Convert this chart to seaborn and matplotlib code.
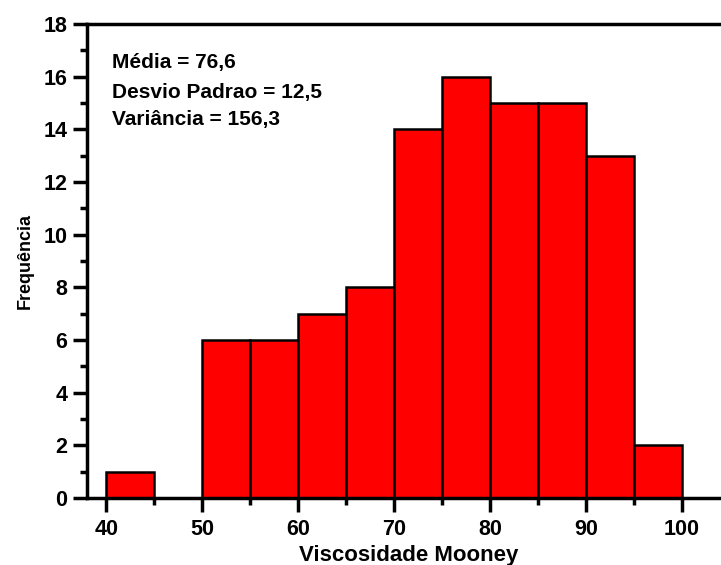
import numpy as np
import pandas as pd
import matplotlib
matplotlib.use('Agg')
import matplotlib.pyplot as plt
import seaborn as sns
from matplotlib import font_manager
from matplotlib.ticker import MultipleLocator

# histogram: bin edges and counts
bin_edges = [40, 45, 50, 55, 60, 65, 70, 75, 80, 85, 90, 95, 100]
counts = [1, 0, 6, 6, 7, 8, 14, 16, 15, 15, 13, 2]
stats_lines = ['Média = 76,6', 'Desvio Padrao = 12,5', 'Variância = 156,3']

centers = [(a + b) / 2 for a, b in zip(bin_edges[:-1], bin_edges[1:])]
df = pd.DataFrame({'visc': centers, 'freq': counts})

sns.set_style('ticks')
plt.rcParams['font.family'] = ['Liberation Sans', 'DejaVu Sans']
plt.rcParams['font.weight'] = 'bold'
plt.rcParams['text.color'] = 'black'
plt.rcParams['axes.labelcolor'] = 'black'
plt.rcParams['xtick.color'] = 'black'
plt.rcParams['ytick.color'] = 'black'
plt.rcParams['axes.edgecolor'] = 'black'

# y label in the original looks condensed - use the narrow face if it is there
names = {f.name for f in font_manager.fontManager.ttflist}
if 'Liberation Sans Narrow' in names:
    ylab_font, ylab_size = 'Liberation Sans Narrow', 15
else:
    ylab_font, ylab_size = 'Liberation Sans', 13

fig = plt.figure(figsize=(7.21, 5.65), dpi=100)
# axes runs past the right edge like the original (right spine cut off)
ax = fig.add_axes([87 / 721, 67 / 565, (730 - 87) / 721, (541 - 67) / 565])

sns.histplot(data=df, x='visc', weights='freq', bins=bin_edges, ax=ax,
             color='#ff0000', alpha=1, edgecolor='black', linewidth=1.8)

ax.set_xlim(38, 105)
ax.set_ylim(0, 18)
ax.xaxis.set_major_locator(MultipleLocator(10))
ax.xaxis.set_minor_locator(MultipleLocator(5))
ax.yaxis.set_major_locator(MultipleLocator(2))
ax.yaxis.set_minor_locator(MultipleLocator(1))
ax.tick_params(which='major', direction='out', length=10, width=2.5, labelsize=15.5)
ax.tick_params(axis='x', which='major', pad=5)
ax.tick_params(axis='y', which='major', pad=4)
ax.tick_params(which='minor', direction='out', length=5, width=2.5)
for lab in ax.get_xticklabels() + ax.get_yticklabels():
    lab.set_fontweight('bold')
for s in ax.spines.values():
    s.set_visible(True)
    s.set_linewidth(2.5)

ax.set_xlabel('Viscosidade Mooney', fontsize=16, fontweight='bold', labelpad=4)
ax.set_ylabel('Frequência', fontsize=ylab_size, fontweight='bold', labelpad=7,
              family=[ylab_font, 'DejaVu Sans'])

for txt, yy in zip(stats_lines, [16.52, 15.38, 14.39]):
    ax.text(40.6, yy, txt, fontsize=15, fontweight='bold', va='center', ha='left')

fig.savefig('out.png', dpi=100)
